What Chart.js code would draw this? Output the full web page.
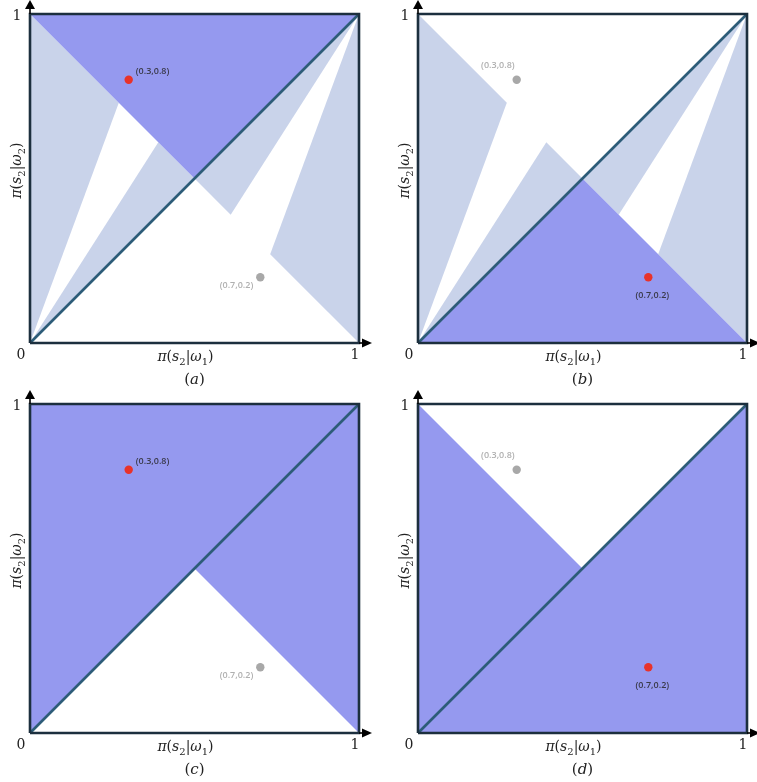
<!DOCTYPE html>
<html lang="en">
<head>
<meta charset="UTF-8" />
<title>Belief regions</title>
<script src="https://cdn.jsdelivr.net/npm/chart.js"></script>
<style>
  body { margin: 0; width: 757px; height: 782px; overflow: hidden; background: #fff; position: relative; }
  canvas { position: absolute; }
</style>
</head>
<body>
<canvas id="panelA" width="378" height="390" style="left:0px;top:0px"></canvas>
<canvas id="panelB" width="378" height="390" style="left:388px;top:0px"></canvas>
<canvas id="panelC" width="378" height="390" style="left:0px;top:390px"></canvas>
<canvas id="panelD" width="378" height="390" style="left:388px;top:390px"></canvas>

<script>
// polygon vertices (belief space, 0..1)
const topTriangle    = [[0, 1], [1, 1], [0.5, 0.5]];
const bottomTriangle = [[0, 0], [1, 0], [0.5, 0.5]];
const leftOuter  = [[0, 0], [0, 1], [0.27, 0.73]];
const leftInner  = [[0, 0], [0.39, 0.61], [0.5, 0.5]];
const rightInner = [[1, 1], [0.5, 0.5], [0.61, 0.39]];
const rightOuter = [[1, 1], [0.73, 0.27], [1, 0]];
const squareMinusBottom = [[0, 0], [0, 1], [1, 1], [1, 0], [0.5, 0.5]];
const squareMinusTop    = [[0, 0], [0, 1], [0.5, 0.5], [1, 1], [1, 0]];
const diagonal = [[0, 0], [1, 1]];
const frame    = [[0, 0], [0, 1], [1, 1], [1, 0], [0, 0]];

// the two beliefs
const beliefX = [0.3, 0.7];
const beliefY = [0.8, 0.2];
const beliefLabels = ['(0.3,0.8)', '(0.7,0.2)'];

// text
const tickLabels = ['0', '1'];
const captions = ['a', 'b', 'c', 'd'];
const xTitle = [['π', 'i'], ['(', 'r'], ['s', 'i'], ['2', 's'], ['|', 'r'], ['ω', 'i'], ['1', 's'], [')', 'r']];
const yTitle = [['π', 'i'], ['(', 'r'], ['s', 'i'], ['2', 's'], ['|', 'r'], ['ω', 'i'], ['2', 's'], [')', 'r']];

const LIGHT = '#c9d3ea';
const PURPLE = '#9599ef';
const RED = '#e8322a';
const GREY = '#a8a8a8';
const SERIF = '"DejaVu Serif"';

const toPts = arr => arr.map(p => ({ x: p[0], y: p[1] }));
const closed = arr => toPts(arr.concat([arr[0]]));

function polygon(arr, color, order) {
    return {
        data: closed(arr),
        showLine: true,
        fill: 'shape',
        backgroundColor: color,
        borderColor: 'rgba(0,0,0,0)',
        borderWidth: 1,
        pointRadius: 0,
        order: order,
        clip: false,
    };
}

function drawMath(ctx, parts, x, y, size, align) {
    const fontFor = p => p[1] === 's'
        ? Math.round(size * 0.7) + 'px ' + SERIF
        : (p[1] === 'i' ? 'italic ' : '') + size + 'px ' + SERIF;
    let w = 0;
    parts.forEach(p => { ctx.font = fontFor(p); w += ctx.measureText(p[0]).width; });
    let cx = align === 'center' ? x - w / 2 : x;
    ctx.textAlign = 'left';
    ctx.textBaseline = 'alphabetic';
    parts.forEach(p => {
        ctx.font = fontFor(p);
        ctx.fillText(p[0], cx, p[1] === 's' ? y + size * 0.28 : y);
        cx += ctx.measureText(p[0]).width;
    });
}

const decorations = {
    id: 'decorations',
    afterDraw(chart, args, opts) {
        const { ctx, scales: { x, y } } = chart;
        const x0 = x.getPixelForValue(0), x1 = x.getPixelForValue(1);
        const y0 = y.getPixelForValue(0), y1 = y.getPixelForValue(1);
        ctx.save();

        // axis arrows
        ctx.fillStyle = '#000';
        ctx.strokeStyle = '#000';
        ctx.lineWidth = 1.6;
        ctx.beginPath(); ctx.moveTo(x0, y1); ctx.lineTo(x0, y1 - 6); ctx.stroke();
        ctx.beginPath(); ctx.moveTo(x0, y1 - 14); ctx.lineTo(x0 - 5, y1 - 5); ctx.lineTo(x0 + 5, y1 - 5); ctx.closePath(); ctx.fill();
        ctx.beginPath(); ctx.moveTo(x1, y0); ctx.lineTo(x1 + 5, y0); ctx.stroke();
        ctx.beginPath(); ctx.moveTo(x1 + 13, y0); ctx.lineTo(x1 + 3, y0 - 4.5); ctx.lineTo(x1 + 3, y0 + 4.5); ctx.closePath(); ctx.fill();

        // tick labels
        ctx.fillStyle = '#222';
        ctx.font = '14px ' + SERIF;
        ctx.textAlign = 'center';
        ctx.textBaseline = 'middle';
        ctx.fillText(tickLabels[0], x0 - 9, y0 + 12);
        ctx.fillText(tickLabels[1], x1 - 4, y0 + 12);
        ctx.fillText(tickLabels[1], x0 - 13, y1 + 2);

        // axis titles
        drawMath(ctx, xTitle, (x0 + x1) / 2 - 9, y0 + 18, 14, 'center');
        ctx.save();
        ctx.translate(x0 - 13, (y0 + y1) / 2 - 8);
        ctx.rotate(-Math.PI / 2);
        drawMath(ctx, yTitle, 0, 4, 14, 'center');
        ctx.restore();

        // caption
        drawMath(ctx, [['(', 'r'], [opts.caption, 'i'], [')', 'r']], (x0 + x1) / 2, y0 + 41, 15, 'center');

        // belief labels
        ctx.font = '600 9px "Open Sans"';
        ctx.textBaseline = 'middle';
        opts.labels.forEach((lb, i) => {
            const px = x.getPixelForValue(beliefX[i]);
            const py = y.getPixelForValue(beliefY[i]);
            ctx.fillStyle = i === opts.active ? '#3a3a4a' : '#b0b0b0';
            ctx.textAlign = lb.align;
            ctx.fillText(beliefLabels[i], px + lb.dx, py + lb.dy);
        });
        ctx.restore();
    }
};

function makePanel(id, lightRegions, purpleRegions, active, caption, labels) {
    const datasets = [];
    lightRegions.forEach(r => datasets.push(polygon(r, LIGHT, 6)));
    purpleRegions.forEach(r => datasets.push(polygon(r, PURPLE, 5)));
    datasets.push({
        data: toPts(diagonal), showLine: true, borderColor: '#2d5c78', borderWidth: 2.6,
        pointRadius: 0, fill: false, order: 4, clip: false,
    });
    datasets.push({
        data: toPts(frame), showLine: true, borderColor: '#1c2f3e', borderWidth: 2.6,
        pointRadius: 0, fill: false, order: 3, clip: false,
    });
    datasets.push({
        data: beliefX.map((v, i) => ({ x: v, y: beliefY[i] })),
        showLine: false,
        pointRadius: 4.2,
        pointBorderWidth: 0,
        pointBackgroundColor: beliefX.map((v, i) => i === active ? RED : GREY),
        order: 1, clip: false,
    });

    new Chart(document.getElementById(id), {
        type: 'scatter',
        data: { datasets },
        options: {
            responsive: false,
            animation: false,
            layout: { padding: { left: 30, right: 19, top: 14, bottom: 47 } },
            scales: {
                x: { type: 'linear', min: 0, max: 1, display: false },
                y: { type: 'linear', min: 0, max: 1, display: false },
            },
            plugins: {
                legend: { display: false },
                tooltip: { enabled: false },
                decorations: { caption, active, labels },
            },
        },
        plugins: [decorations],
    });
}

const sideLight = [leftOuter, leftInner, rightInner, rightOuter];
const labelsAC = [{ dx: 7, dy: -8, align: 'left' }, { dx: -7, dy: 8, align: 'right' }];
const labelsBD = [{ dx: -2, dy: -14, align: 'right' }, { dx: 4, dy: 18, align: 'center' }];

makePanel('panelA', sideLight, [topTriangle], 0, captions[0], labelsAC);
makePanel('panelB', sideLight, [bottomTriangle], 1, captions[1], labelsBD);
makePanel('panelC', [], [squareMinusBottom], 0, captions[2], labelsAC);
makePanel('panelD', [], [squareMinusTop], 1, captions[3], labelsBD);
</script>
</body>
</html>
